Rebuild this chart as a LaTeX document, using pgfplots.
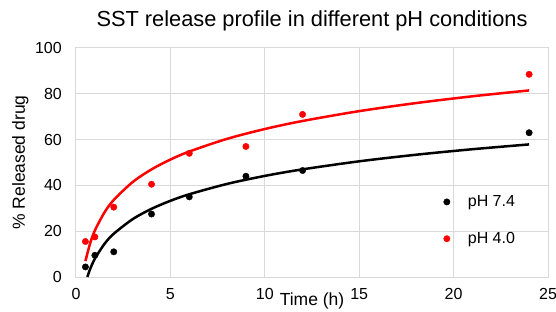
\documentclass[border=0pt]{standalone}
\usepackage{fontspec}
\setmainfont{Liberation Sans}
\usepackage{pgfplots}
\pgfplotsset{compat=1.18}
\definecolor{gridgray}{RGB}{217,217,217}
\definecolor{phred}{RGB}{255,0,0}
\begin{document}
\begin{tikzpicture}[x=1pt,y=1pt]
\useasboundingbox (-76,-34) rectangle (480,277);
\begin{axis}[
  at={(0,0)}, anchor=south west,
  scale only axis, width=472pt, height=229pt,
  xmin=0, xmax=25, ymin=0, ymax=100,
  xtick={0,5,10,15,20,25}, ytick={0,20,40,60,80,100},
  grid=major, major grid style={gridgray, line width=1pt},
  axis line style={gridgray, line width=1pt},
  tick style={draw=none},
  ticklabel style={font=\fontsize{16}{18}\selectfont, inner sep=0pt},
  /pgf/number format/assume math mode=true,
  xticklabel style={anchor=base, yshift=-22pt},
  yticklabel style={anchor=east, xshift=-14pt},
  xlabel={Time (h)}, ylabel={\% Released drug},
  label style={font=\fontsize{17.5}{19}\selectfont, inner sep=0pt},
  xlabel style={at={(axis description cs:0.5,0)}, anchor=base, yshift=-28.5pt},
  ylabel style={at={(axis description cs:0,0.5)}, anchor=base, yshift=51pt},
  title={SST release profile in different pH conditions},
  title style={font=\fontsize{21.8}{24}\selectfont, inner sep=0pt, at={(axis description cs:0.5,1)}, anchor=base, yshift=15pt},
  legend image code/.code={\path[draw=none,fill=none] (-21pt,0pt) -- (21pt,0pt);
    \draw[only marks] plot coordinates {(0pt,0pt)};},
  legend style={draw=none, fill=none, at={(axis cs:18.52,35.6)}, anchor=north west,
    font=\fontsize{16}{18}\selectfont, row sep=24.2pt, inner sep=0pt,
    nodes={inner sep=0pt}},
  legend cell align=left,
  clip=false,
]
\addplot[only marks, mark=*, mark size=3.2pt, black] coordinates {
(0.5,4.4) (1,9.5) (2,11) (4,27.5) (6,35) (9,44) (12,46.5) (24,63)};
\addlegendentry{pH 7.4}
\addplot[only marks, mark=*, mark size=3.2pt, phred, mark options={fill=phred}] coordinates {
(0.5,15.5) (1,17.5) (2,30.5) (4,40.5) (6,54) (9,57) (12,71) (24,88.5)};
\addlegendentry{pH 4.0}
\addplot[black, line width=2.5pt, smooth, forget plot] coordinates {
(0.6,0) (0.75,3.48) (1,8.0) (1.5,14.37) (2,18.88) (3,25.25) (4,29.77) (5,33.27) (6,36.13)
(8,40.65) (10,44.15) (12,47.01) (15,50.52) (18,53.38) (21,55.80) (24,57.90)};
\addplot[phred, line width=2.5pt, smooth, forget plot] coordinates {
(0.5,6.96) (0.75,14.76) (1,20.3) (1.5,28.1) (2,33.64) (3,41.45) (4,46.99) (5,51.28) (6,54.79)
(8,60.33) (10,64.62) (12,68.13) (15,72.43) (18,75.94) (21,78.91) (24,81.48)};
\end{axis}
\end{tikzpicture}
\end{document}
